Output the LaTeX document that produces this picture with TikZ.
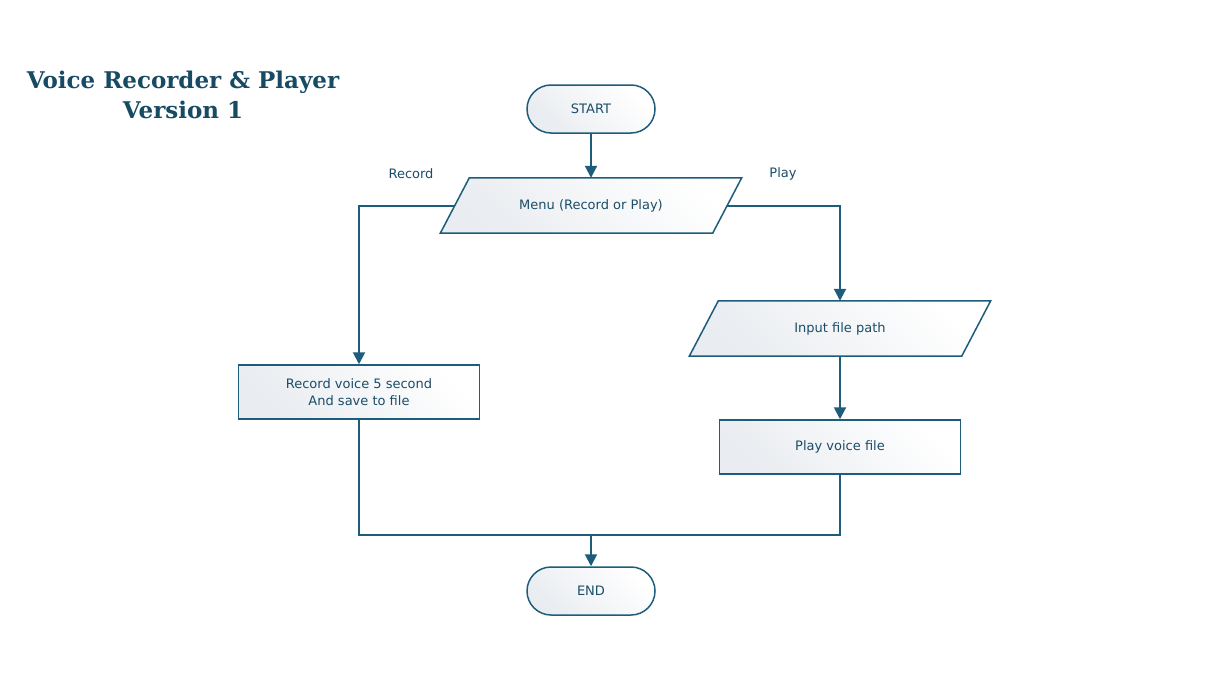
\documentclass[tikz,border=0pt]{standalone}
\usepackage{fontspec}
\setmainfont{DejaVu Sans}
\newfontfamily\titlefont{DejaVu Serif}
\usetikzlibrary{arrows.meta,calc}
\definecolor{lc}{HTML}{1E5C7C}
\definecolor{tc}{HTML}{1B4D68}
\definecolor{ttl}{HTML}{174A63}
\definecolor{fl}{HTML}{E9ECF0}
\tikzset{
  base/.style={inner sep=0pt, font=\fontsize{13}{16.5}\selectfont, text=tc, align=center},
  boxshape/.style={base, draw=lc, line width=1.5pt, left color=fl, right color=white, shading angle=135},
  term/.style={boxshape, rounded corners=24pt, minimum width=128pt, minimum height=48pt},
  proc/.style={boxshape, rounded corners=0pt, minimum width=241pt, minimum height=54pt},
  io/.style={base, minimum width=272pt, minimum height=55pt},
  conn/.style={draw=lc, line width=2pt},
  arr/.style={conn, -{Triangle[width=12pt,length=12pt]}},
  lbl/.style={inner sep=0pt, font=\fontsize{13}{16}\selectfont, text=tc},
}
\newcommand{\drawpara}[1]{%
  \path[draw=lc, line width=1.5pt, left color=fl, right color=white, shading angle=135]
    ($(#1.north west)+(14.5pt,0)$) -- ($(#1.north east)+(14.5pt,0)$) --
    ($(#1.south east)+(-14.5pt,0)$) -- ($(#1.south west)+(-14.5pt,0)$) -- cycle;}
\begin{document}
\begin{tikzpicture}[x=1pt,y=-1pt]
\useasboundingbox[fill=white] (0,0) rectangle (1224,680);
% title
\node[inner sep=0pt, text=ttl, align=center, font=\titlefont\bfseries\fontsize{23}{30}\selectfont] (title) at (183,95) {Voice Recorder \& Player\\Version 1};
% nodes
\node[term] (start) at (591,109) {START};
\node[io] (menuc) at (591,205.5) {};
\drawpara{menuc}
\node[base] (menu) at (591,205.5) {Menu (Record or Play)};
\node[io] (inpc) at (840,328.5) {};
\drawpara{inpc}
\node[base] (inp) at (840,328.5) {Input file path};
\node[proc] (rec) at (359,392) {Record voice 5 second\\And save to file};
\node[proc] (play) at (840,447) {Play voice file};
\node[term] (end) at (591,591) {END};
\coordinate (join) at (591,535);
% labels
\node[lbl] (lrec) at (411,174) {Record};
\node[lbl] (lplay) at (783,174) {Play};
% connectors
\draw[arr] (start.south) -- (menuc.north -| start.south);
\draw[arr] (menuc.west) -| (rec.north);
\draw[arr] (menuc.east) -| (inpc.north);
\draw[arr] (inpc.south) -- (play.north);
\draw[conn] (rec.south) |- (join);
\draw[conn] (play.south) |- (join);
\draw[arr] (join) -- (end.north);
\end{tikzpicture}
\end{document}
